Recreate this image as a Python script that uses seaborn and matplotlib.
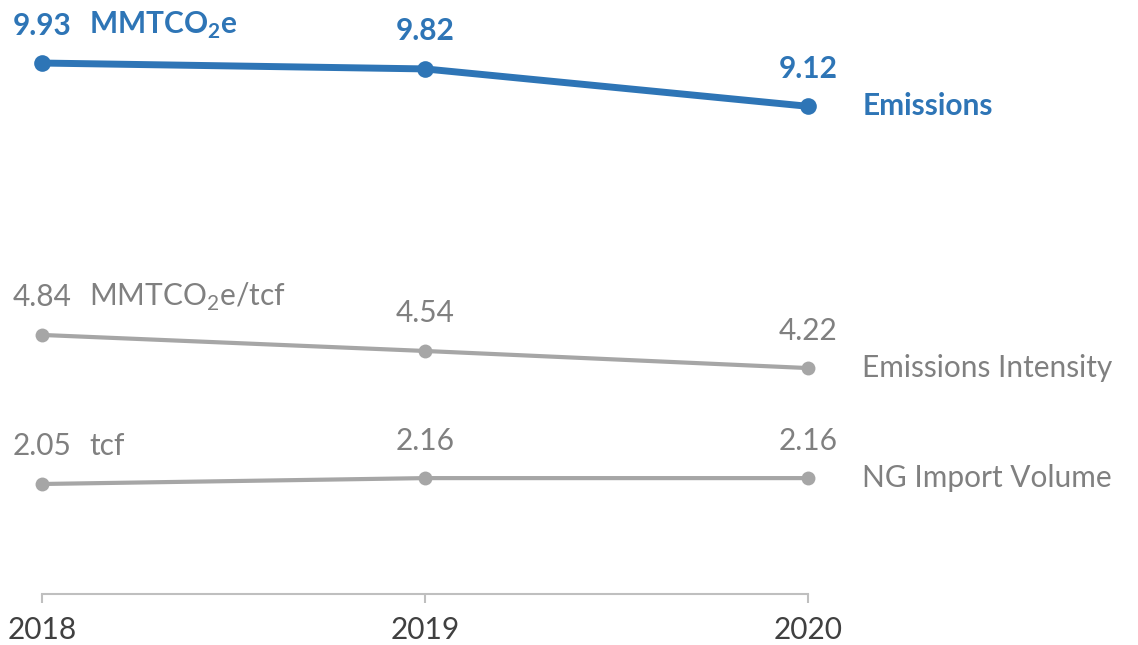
import pandas as pd
import matplotlib
matplotlib.use("Agg")
import matplotlib.pyplot as plt
import seaborn as sns

# Data
years = [2018, 2019, 2020]
emissions = [9.93, 9.82, 9.12]
intensity = [4.84, 4.54, 4.22]
ng_volume = [2.05, 2.16, 2.16]
series_names = ["Emissions", "Emissions Intensity", "NG Import Volume"]
units = ["MMTCO$_\\mathbf{2}$e", "MMTCO$_2$e/tcf", "tcf"]

df = pd.DataFrame({
    "year": years * 3,
    "value": emissions + intensity + ng_volume,
    "series": [s for s in series_names for _ in years],
})

sns.set_theme(style="white")
plt.rcParams["font.family"] = ["Lato", "DejaVu Sans"]
plt.rcParams["mathtext.fontset"] = "custom"
plt.rcParams["mathtext.rm"] = "Lato"
plt.rcParams["mathtext.bf"] = "Lato:bold"

blue = "#2E75B6"
grey = "#A6A6A6"
grey_text = "#808080"
fs = 21.5

styles = {
    "Emissions": dict(color=blue, lw=5, ms=12, txt=blue, weight="bold"),
    "Emissions Intensity": dict(color=grey, lw=3, ms=10, txt=grey_text, weight="normal"),
    "NG Import Volume": dict(color=grey, lw=3, ms=10, txt=grey_text, weight="normal"),
}

fig = plt.figure(figsize=(11.38, 6.45), dpi=100)
ax = fig.add_axes([42 / 1138, 51.5 / 645, 766 / 1138, 593.5 / 645])

for name, unit in zip(series_names, units):
    st = styles[name]
    sub = df[df["series"] == name]
    sns.lineplot(data=sub, x="year", y="value", ax=ax, color=st["color"],
                 linewidth=st["lw"], marker="o", markersize=st["ms"],
                 markeredgewidth=0, clip_on=False, legend=False)
    for x, y in zip(sub["year"], sub["value"]):
        ax.annotate(f"{y:.2f}", (x, y), xytext=(0, 27), textcoords="offset points",
                    ha="center", va="center", fontsize=fs, color=st["txt"],
                    fontweight=st["weight"], annotation_clip=False)
    first = sub.iloc[0]
    ax.annotate(unit, (first["year"], first["value"]), xytext=(34, 27),
                textcoords="offset points", ha="left", va="center", fontsize=fs,
                color=st["txt"], fontweight=st["weight"], annotation_clip=False)
    last = sub.iloc[-1]
    ax.annotate(name, (last["year"], last["value"]), xytext=(39, 0),
                textcoords="offset points", ha="left", va="center", fontsize=fs,
                color=st["txt"], fontweight=st["weight"], annotation_clip=False)

ax.set_xlim(2018, 2020)
ax.set_ylim(0, 11.11)
ax.set_xticks(years)
ax.set_xticklabels([str(y) for y in years])
ax.set_yticks([])
ax.set_xlabel("")
ax.set_ylabel("")
for s in ["top", "right", "left"]:
    ax.spines[s].set_visible(False)
ax.spines["bottom"].set_color("#BFBFBF")
ax.spines["bottom"].set_linewidth(1.5)
ax.tick_params(axis="x", bottom=True, length=6.5, width=1.5, color="#BFBFBF",
               direction="out", pad=10, labelsize=fs, labelcolor="#404040")

fig.savefig("out.png", dpi=100)
